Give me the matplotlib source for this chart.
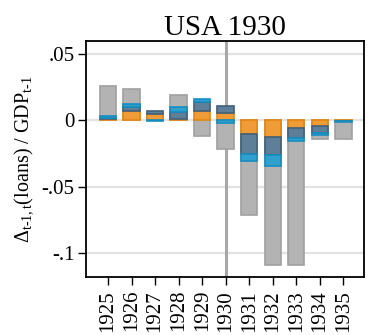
import matplotlib
matplotlib.use("Agg")
import matplotlib.pyplot as plt
import numpy as np

years = [1925, 1926, 1927, 1928, 1929, 1930, 1931, 1932, 1933, 1934, 1935]
total = [0.0254, 0.0233, 0.005, 0.0186, -0.0118, -0.022, -0.0716, -0.1088, -0.1088, -0.0145, -0.014]
comp_orange = [0.001, 0.0068, 0.0045, 0.0005, 0.007, 0.005, -0.0103, -0.0128, -0.0058, -0.0047, -0.0008]
comp_dark = [0.0004, 0.003, 0.0021, 0.0055, 0.0065, 0.0055, -0.0155, -0.0138, -0.0078, -0.005, -0.0002]
comp_light = [0.0018, 0.0022, -0.001, 0.0038, 0.002, -0.002, -0.0053, -0.008, -0.002, -0.0013, -0.0002]
yticks = [0.05, 0.0, -0.05, -0.1]
ytick_labels = [".05", "0", "-.05", "-.1"]
title = "USA 1930"
crisis_year = 1930

plt.rcParams['font.family'] = ['Liberation Serif', 'DejaVu Serif']
plt.rcParams['mathtext.fontset'] = 'custom'
plt.rcParams['mathtext.rm'] = 'Liberation Serif'
plt.rcParams['mathtext.it'] = 'Liberation Serif'

fig = plt.figure(figsize=(3.69, 3.35), dpi=100)
ax = fig.add_axes([86/369, 1-277/335, (364-86)/369, (277-41)/335])

x = np.array(years, dtype=float)
w = 0.7
ax.bar(x, total, width=w, color='#b3b3b3', edgecolor='#a0a0a0', linewidth=1.2, zorder=3)

pos_b = np.zeros(len(years))
neg_b = np.zeros(len(years))
for vals, fc, ec in [(comp_orange, '#ee9b38', '#e5870f'),
                     (comp_dark, '#5f7f99', '#41617a'),
                     (comp_light, '#30a0cc', '#168cc0')]:
    v = np.array(vals)
    bottom = np.where(v >= 0, pos_b, neg_b)
    ax.bar(x, v, width=w, bottom=bottom, color=fc, edgecolor=ec, linewidth=1.2, zorder=4)
    pos_b = pos_b + np.where(v >= 0, v, 0)
    neg_b = neg_b + np.where(v < 0, v, 0)

ax.axvline(crisis_year, color='#a8a8a8', linewidth=2.2, zorder=2)

ax.set_xlim(1924.06, 1935.88)
ax.set_ylim(-0.1181, 0.0595)
ax.set_yticks(yticks)
ax.set_yticklabels(ytick_labels)
ax.set_xticks(years)
ax.set_xticklabels([str(y) for y in years], rotation=90)
ax.yaxis.grid(True, color='#e2e2e2', linewidth=1.6, zorder=0)
ax.set_axisbelow(True)
ax.tick_params(axis='both', labelsize=15, length=5.8, width=1.0, direction='out')
ax.tick_params(axis='x', pad=3.5)
ax.tick_params(axis='y', pad=2.5)
for s in ax.spines.values():
    s.set_linewidth(1.3)
    s.set_color('black')

ax.set_ylabel(r'$\Delta_{\mathrm{t\text{-}1,t}}$(loans) / GDP$_{\mathrm{t\text{-}1}}$', fontsize=14.5, labelpad=5)
ax.set_title(title, fontsize=21, pad=3)

fig.savefig('out.png', dpi=100)
